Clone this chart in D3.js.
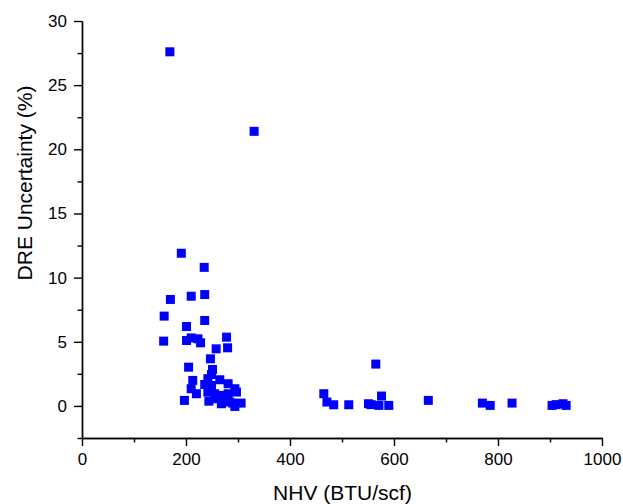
<!DOCTYPE html>
<html>
<head>
<meta charset="utf-8">
<script src="https://cdn.jsdelivr.net/npm/d3@7"></script>
<style>
  body { margin: 0; background: #fff; }
  .axis text { font-family: "Liberation Sans", Arial, sans-serif; font-size: 17px; fill: #000; }
  .axis path, .axis line { stroke: #000; stroke-width: 1.4px; }
  .title { font-family: "Liberation Sans", Arial, sans-serif; font-size: 21px; fill: #000; }
</style>
</head>
<body>
<script>
// NHV (BTU/scf) vs DRE uncertainty (%)
var nhv = [169, 331, 191, 235, 210, 236, 170, 158, 201, 236, 157, 201, 210, 223, 228,
  278, 258, 280, 247, 205, 251, 249, 242, 265, 213, 236, 249, 281, 294, 210,
  220, 242, 255, 268, 281, 297, 197, 244, 268, 290, 294, 306, 284, 260,
  465, 471, 484, 513, 565, 551, 556, 571, 576, 590, 666, 770, 785, 827, 904, 912, 925, 931];
var dre = [27.6, 21.4, 11.9, 10.8, 8.55, 8.68, 8.3, 7.0, 6.19, 6.66, 5.05, 5.1, 5.3, 5.23, 4.92,
  5.36, 4.45, 4.53, 3.67, 3.02, 2.84, 2.45, 2.12, 2.04, 1.99, 1.67, 1.6, 1.73, 1.34, 1.34,
  0.95, 1.08, 0.95, 0.82, 0.95, 1.08, 0.43, 0.37, 0.17, 0.22, -0.04, 0.22, 0.3, 0.56,
  0.95, 0.3, 0.09, 0.09, 3.26, 0.17, 0.1, 0.04, 0.77, 0.04, 0.43, 0.22, 0.04, 0.22, 0.04, 0.1, 0.17, 0.04];
var xMajor = [0, 200, 400, 600, 800, 1000];
var yMajor = [0, 5, 10, 15, 20, 25, 30];

var margin = {left: 82, top: 21, right: 21, bottom: 66};
var w = 623 - margin.left - margin.right,
    h = 504 - margin.top - margin.bottom;

var svg = d3.select("body").append("svg")
    .attr("width", 623)
    .attr("height", 504);
var g = svg.append("g")
    .attr("transform", "translate(" + margin.left + "," + margin.top + ")");

var x = d3.scaleLinear().domain([0, 1000]).range([0, w]);
var y = d3.scaleLinear().domain([-2.5, 30]).range([h, 0]);

// minor ticks first, then major with labels
g.append("g").attr("class", "axis")
    .attr("transform", "translate(0," + h + ")")
    .call(d3.axisBottom(x).tickValues(d3.range(100, 1000, 200)).tickSize(4.5).tickFormat("").tickSizeOuter(0));
g.append("g").attr("class", "axis")
    .attr("transform", "translate(0," + h + ")")
    .call(d3.axisBottom(x).tickValues(xMajor).tickSize(8).tickPadding(7).tickFormat(d3.format("d")).tickSizeOuter(0));

g.append("g").attr("class", "axis")
    .call(d3.axisLeft(y).tickValues(d3.range(-2.5, 30, 5)).tickSize(4.5).tickFormat("").tickSizeOuter(0));
g.append("g").attr("class", "axis")
    .call(d3.axisLeft(y).tickValues(yMajor).tickSize(8).tickPadding(7).tickFormat(d3.format("d")).tickSizeOuter(0));

var s = 9;
g.append("g").selectAll("rect")
    .data(nhv.map(function (d, i) { return [d, dre[i]]; }))
    .enter().append("rect")
    .attr("x", function (d) { return x(d[0]) - s / 2; })
    .attr("y", function (d) { return y(d[1]) - s / 2; })
    .attr("width", s)
    .attr("height", s)
    .attr("fill", "#0000ff");

svg.append("text").attr("class", "title")
    .attr("x", margin.left + w / 2 + 0.5)
    .attr("y", 500)
    .attr("text-anchor", "middle")
    .text("NHV (BTU/scf)");

svg.append("text").attr("class", "title")
    .attr("transform", "translate(32,183) rotate(-90)")
    .attr("text-anchor", "middle")
    .text("DRE Uncertainty (%)");
</script>
</body>
</html>
